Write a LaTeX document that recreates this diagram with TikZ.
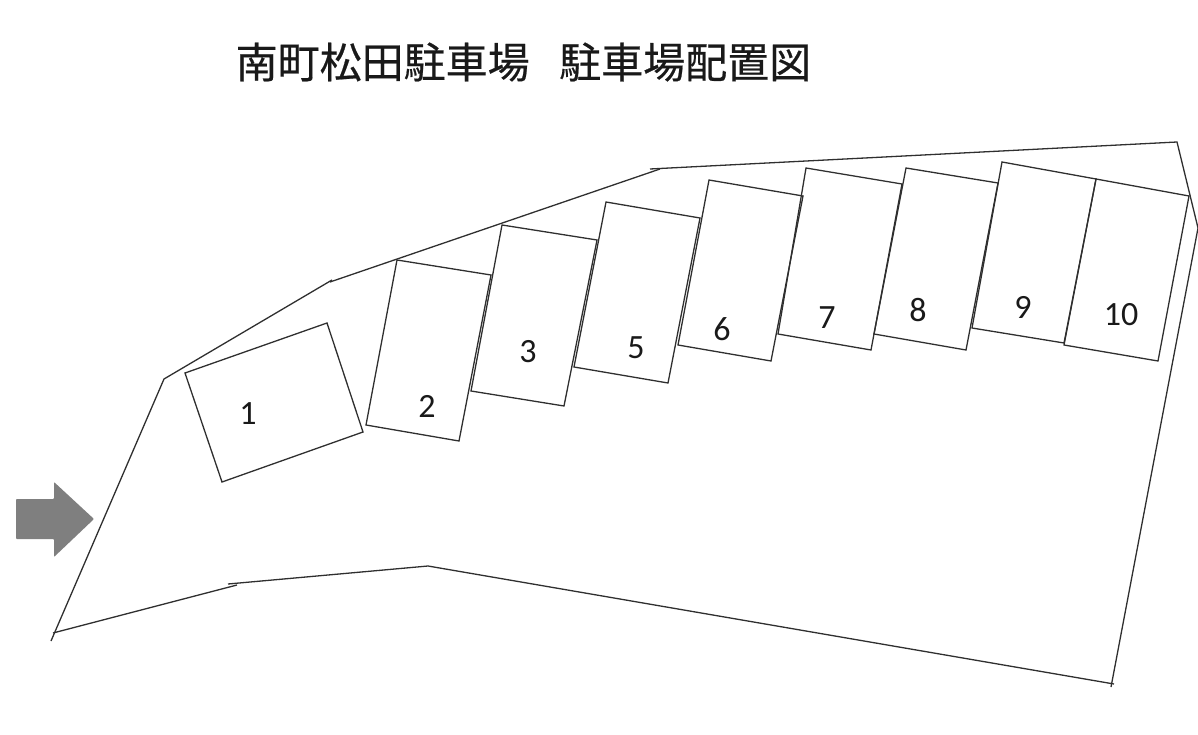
\documentclass[tikz,border=0pt]{standalone}
\usepackage{fontspec}
\setmainfont{Carlito}
\newfontfamily\cjk[FakeBold=0.5]{Noto Sans CJK JP}
\definecolor{linecol}{HTML}{2F2F2F}
\definecolor{arrowcol}{HTML}{7F7F7F}
\tikzset{
  stall/.style={draw=linecol,line width=1.3pt,line join=miter},
  boundary/.style={draw=linecol,line width=1.3pt},
  numlabel/.style={font=\fontsize{34}{36}\selectfont,text=black!90,inner sep=0pt},
  titlelabel/.style={font=\cjk\fontsize{42}{44}\selectfont,text=black!90,inner sep=0pt,anchor=west}
}
\begin{document}
\begin{tikzpicture}[x=1pt,y=-1pt]
\useasboundingbox (0,0) rectangle (1198,735);
\node[titlelabel] (title1) at (235.5,62) {南町松田駐車場};
\node[titlelabel] (title2) at (559,62) {駐車場配置図};
% boundary
\draw[boundary] (51,641) -- (164,379) -- (332,280);
\draw[boundary] (330,282) -- (660,169);
\draw[boundary] (650,169) -- (1177,142) -- (1198,228) -- (1111,687);
\draw[boundary] (1114,684) -- (428,566) -- (228,584);
\draw[boundary] (237,585) -- (53,633);
% stalls
\draw[stall] (185,373) -- (327,323) -- (363,432) -- (222,482) -- cycle;
\draw[stall] (397,260) -- (491,275) -- (459,441) -- (366,425) -- cycle;
\draw[stall] (502,225) -- (597,240) -- (564,406) -- (471,391) -- cycle;
\draw[stall] (606,202) -- (700,218) -- (668,383) -- (574,367) -- cycle;
\draw[stall] (709,180) -- (803,196) -- (771,361) -- (678,345) -- cycle;
\draw[stall] (806,168) -- (902,184) -- (871,350) -- (778,334) -- cycle;
\draw[stall] (906,168) -- (998,183) -- (966,350) -- (874,334) -- cycle;
\draw[stall] (1002,162) -- (1096,179) -- (1064,343) -- (972,328) -- cycle;
\draw[stall] (1096,179) -- (1189,196) -- (1158,361) -- (1064,345) -- cycle;
% entrance arrow
\fill[arrowcol,rounded corners=0.8pt] (16,499) -- (54,499) -- (54,482) -- (94,519) -- (54,557) -- (54,539) -- (16,539) -- cycle;
% numbers
\node[numlabel] (n1) at (248,414) {1};
\node[numlabel] (n2) at (427,406) {2};
\node[numlabel] (n3) at (528,352) {3};
\node[numlabel] (n5) at (636,348) {5};
\node[numlabel] (n6) at (722,329) {6};
\node[numlabel] (n7) at (827,318) {7};
\node[numlabel] (n8) at (918,310) {8};
\node[numlabel] (n9) at (1023,307) {9};
\node[numlabel] (n10) at (1121,315) {10};
\end{tikzpicture}
\end{document}
